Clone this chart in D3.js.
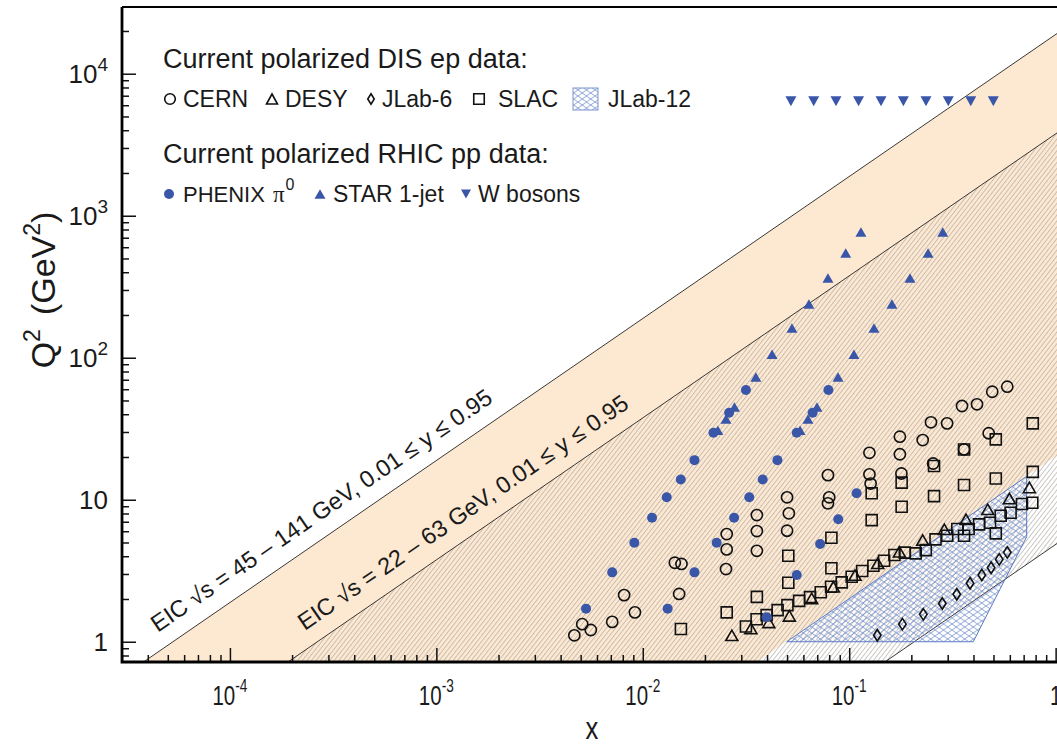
<!DOCTYPE html>
<html>
<head>
<meta charset="utf-8">
<script src="https://cdn.jsdelivr.net/npm/d3@7"></script>
<style>
body { margin: 0; background: #fff; }
text { font-family: "Liberation Sans", Arial, Helvetica, sans-serif; fill: #1a1a1a; }
</style>
</head>
<body>
<svg id="chart" width="1057" height="748"></svg>
<script>
"use strict"

// ---- data: [x, Q^2 (GeV^2)] ----
const cern = [
    [0.00466, 1.11], [0.00509, 1.33], [0.0056, 1.21], [0.00711, 1.38], [0.00812, 2.13], [0.00916, 1.61],
    [0.0150, 2.17], [0.0143, 3.60], [0.0154, 3.53], [0.0253, 3.25], [0.0255, 5.73], [0.0255, 4.47],
    [0.0357, 7.80], [0.0357, 6.02], [0.0357, 4.37], [0.050, 10.4], [0.051, 8.02], [0.050, 6.05],
    [0.0789, 14.9], [0.080, 10.4], [0.0789, 9.43], [0.1253, 21.4], [0.1253, 15.1], [0.127, 13.0],
    [0.176, 27.8], [0.176, 20.9], [0.179, 15.3], [0.227, 26.3], [0.249, 35.1], [0.298, 34.5],
    [0.255, 18.0], [0.352, 45.7], [0.416, 47.0], [0.360, 22.6], [0.474, 29.4], [0.493, 57.6], [0.583, 62.5]
]
const desy = [
    [0.0270, 1.11], [0.0334, 1.24], [0.0408, 1.37], [0.0513, 1.52], [0.0658, 2.02], [0.0838, 2.44],
    [0.1067, 2.95], [0.1374, 3.57], [0.175, 4.30], [0.227, 5.20], [0.289, 6.19], [0.368, 7.28],
    [0.469, 8.56], [0.597, 10.2], [0.746, 12.2]
]
const jlab6 = [
    [0.1368, 1.11], [0.181, 1.33], [0.2286, 1.56], [0.2825, 1.86], [0.332, 2.16], [0.385, 2.58],
    [0.439, 2.95], [0.487, 3.32], [0.533, 3.80], [0.583, 4.26]
]
const slac = [
    [0.0153, 1.23], [0.0255, 1.61], [0.0357, 2.07], [0.0507, 2.60], [0.0507, 4.03], [0.082, 5.40],
    [0.082, 3.29], [0.1285, 11.1], [0.1285, 7.19], [0.1795, 13.2], [0.1795, 8.93], [0.2576, 17.3],
    [0.2576, 10.6], [0.360, 22.6], [0.360, 12.7], [0.513, 26.6], [0.513, 14.1], [0.775, 34.5],
    [0.775, 15.7], [0.513, 5.80], [0.360, 5.58],
    [0.0316, 1.28], [0.0356, 1.44], [0.0398, 1.54], [0.0450, 1.67], [0.0502, 1.81], [0.0572, 1.94],
    [0.0646, 2.06], [0.0728, 2.23], [0.0817, 2.44], [0.0920, 2.62], [0.1028, 2.87], [0.1156, 3.15],
    [0.131, 3.43], [0.1476, 3.72], [0.1656, 4.08], [0.186, 4.24], [0.210, 4.19], [0.235, 4.42],
    [0.262, 5.26], [0.2985, 5.58], [0.334, 6.22], [0.379, 6.22], [0.426, 6.71], [0.481, 6.89],
    [0.542, 7.72], [0.605, 8.10], [0.687, 9.33], [0.771, 9.52]
]
const phenix = [
    [0.0316, 59.2], [0.0262, 41.0], [0.0220, 29.6], [0.0178, 19.0], [0.01528, 13.9], [0.01306, 10.4],
    [0.01109, 7.47], [0.0091, 4.98], [0.00711, 3.08], [0.00531, 1.71],
    [0.0793, 59.2], [0.0665, 41.0], [0.0557, 29.6], [0.0449, 19.0], [0.0381, 13.9], [0.0328, 10.4],
    [0.0277, 7.47], [0.0228, 4.98], [0.0178, 3.08], [0.0132, 1.71],
    [0.0398, 1.49], [0.0557, 2.95], [0.0723, 4.88], [0.0885, 7.28], [0.1086, 11.1]
]
const star = [
    [0.0231, 30.9], [0.0253, 37.0], [0.0278, 45.0], [0.0353, 73.1], [0.0423, 106], [0.0528, 162],
    [0.0638, 239], [0.0789, 364], [0.0962, 546], [0.114, 768],
    [0.0578, 30.9], [0.0631, 37.0], [0.0698, 45.0], [0.0883, 73.1], [0.1054, 106], [0.1318, 162],
    [0.161, 239], [0.197, 364], [0.241, 546], [0.284, 768]
]
const wBosons = [
    [0.0522, 6400], [0.0673, 6400], [0.0863, 6400], [0.111, 6400], [0.1426, 6400],
    [0.183, 6400], [0.2355, 6400], [0.302, 6400], [0.388, 6400], [0.499, 6400]
]
// JLab-12 reach (outline of the hatched region)
const jlab12 = [[0.0498, 1.0], [0.724, 14.6], [0.724, 5.49], [0.399, 1.0]]

// EIC kinematic bands: Q^2 = x * y * s
const eicBands = [
    { sqrtsLo: 45, sqrtsHi: 141, label: "EIC \u221As = 45 \u2013 141 GeV, 0.01 \u2264 y \u2264 0.95", at: 4.95e-5 },
    { sqrtsLo: 22, sqrtsHi: 63,  label: "EIC \u221As = 22 \u2013 63 GeV, 0.01 \u2264 y \u2264 0.95",  at: 2.55e-4 }
]
const yMin = 0.01, yMax = 0.95

const xTicks = [1e-4, 1e-3, 1e-2, 1e-1, 1]
const xTickLabels = [["10", "-4"], ["10", "-3"], ["10", "-2"], ["10", "-1"], ["1", ""]]
const yTicks = [1, 10, 100, 1000, 10000]
const yTickLabels = [["1", ""], ["10", ""], ["10", "2"], ["10", "3"], ["10", "4"]]

// ---- layout ----
const pL = 122, pT = 7, pB = 662, pR = 1060
const blue = "#3a56a8"
const orange = "#fde9d2"

const svg = d3.select("#chart")
const x = d3.scaleLog().domain([3e-5, 1.05]).range([pL, pR])
const y = d3.scaleLog().domain([0.72, 29500]).range([pB, pT])

const defs = svg.append("defs")
defs.append("clipPath").attr("id", "plot")
    .append("rect").attr("x", pL).attr("y", pT).attr("width", pR - pL).attr("height", pB - pT)

const hatch = defs.append("pattern").attr("id", "hatch")
    .attr("patternUnits", "userSpaceOnUse").attr("width", 3.6).attr("height", 10)
    .attr("patternTransform", "rotate(38)")
hatch.append("line").attr("x1", 0.5).attr("y1", 0).attr("x2", 0.5).attr("y2", 10)
    .attr("stroke", "#a39d96").attr("stroke-width", 0.6)

const cross = defs.append("pattern").attr("id", "cross")
    .attr("patternUnits", "userSpaceOnUse").attr("width", 8.5).attr("height", 6)
cross.append("path").attr("d", "M0,0L8.5,6M0,6L8.5,0")
    .attr("stroke", "#6d8acb").attr("stroke-width", 0.75).attr("fill", "none")

const plot = svg.append("g").attr("clip-path", "url(#plot)")
const xs = x.domain()

// band polygon between two proportionality lines Q^2 = k x
const band = (kLo, kHi) => {
    const pts = [[xs[0], kHi * xs[0]], [xs[1], kHi * xs[1]], [xs[1], kLo * xs[1]], [xs[0], kLo * xs[0]]]
    return "M" + pts.map(p => [x(p[0]), y(p[1])].join(",")).join("L") + "Z"
}
const bandLine = k => "M" + [xs[0], xs[1]].map(v => [x(v), y(k * v)].join(",")).join("L")

const b1 = eicBands[0], b2 = eicBands[1]
plot.append("path").attr("d", band(yMin * b1.sqrtsLo ** 2, yMax * b1.sqrtsHi ** 2)).attr("fill", orange)
plot.append("path").attr("d", band(yMin * b2.sqrtsLo ** 2, yMax * b2.sqrtsHi ** 2)).attr("fill", "url(#hatch)")

plot.selectAll("path.eic").data([yMax * b1.sqrtsHi ** 2, yMax * b2.sqrtsHi ** 2, yMin * b2.sqrtsLo ** 2])
    .enter().append("path").attr("class", "eic")
    .attr("d", bandLine).attr("fill", "none").attr("stroke", "#222").attr("stroke-width", 0.9)

// JLab-12 region
plot.append("path")
    .attr("d", d3.line().x(d => x(d[0])).y(d => y(d[1]))(jlab12) + "Z")
    .attr("fill", "url(#cross)").attr("stroke", "#5c7bc4").attr("stroke-width", 1)

// band labels, rotated along the upper line of each band
const angle = Math.atan2(y(1) - y(10), x(10) - x(1)) * 180 / Math.PI
eicBands.forEach(b => {
    const k = yMax * b.sqrtsHi ** 2
    svg.append("text")
        .attr("transform", `translate(${x(b.at)},${y(k * b.at)}) rotate(${-angle})`)
        .attr("x", 0).attr("y", -16)
        .attr("font-size", 23.5)
        .text(b.label)
})

// ---- markers ----
const tri = (w, h) => `M0,${-h / 2}L${w / 2},${h / 2}L${-w / 2},${h / 2}Z`
const triDown = (w, h) => `M0,${h / 2}L${w / 2},${-h / 2}L${-w / 2},${-h / 2}Z`
const diamond = (w, h) => `M0,${-h / 2}L${w / 2},0L0,${h / 2}L${-w / 2},0Z`
const square = s => `M${-s / 2},${-s / 2}h${s}v${s}h${-s}Z`
const circle = r => `M${-r},0a${r},${r} 0 1,0 ${2 * r},0a${r},${r} 0 1,0 ${-2 * r},0Z`

const series = [
    { data: cern,    d: circle(5.6),       fill: "none", stroke: "#111" },
    { data: desy,    d: tri(12, 10.5),     fill: "none", stroke: "#111" },
    { data: jlab6,   d: diamond(7.5, 11.5), fill: "none", stroke: "#111" },
    { data: slac,    d: square(11),        fill: "none", stroke: "#111" },
    { data: star,    d: tri(11, 9.5),      fill: blue,   stroke: "none" },
    { data: phenix,  d: circle(5),         fill: blue,   stroke: "none" },
    { data: wBosons, d: triDown(11, 10),   fill: blue,   stroke: "none" }
]
series.forEach(s => {
    plot.append("g").selectAll("path").data(s.data).enter().append("path")
        .attr("transform", p => `translate(${x(p[0])},${y(p[1])})`)
        .attr("d", s.d).attr("fill", s.fill).attr("stroke", s.stroke).attr("stroke-width", 1.6)
})

// ---- legend ----
const lg = svg.append("g")
lg.append("text").attr("x", 163).attr("y", 68).attr("font-size", 27).text("Current polarized DIS ep data:")
lg.append("text").attr("x", 163).attr("y", 163).attr("font-size", 27).text("Current polarized RHIC pp data:")

const row1 = [
    { d: circle(5.3), fill: "none", stroke: "#111", mx: 170, tx: 183, label: "CERN" },
    { d: tri(11, 10), fill: "none", stroke: "#111", mx: 272, tx: 285, label: "DESY" },
    { d: diamond(6.5, 10.5), fill: "none", stroke: "#111", mx: 371, tx: 382, label: "JLab-6" },
    { d: square(10.5), fill: "none", stroke: "#111", mx: 479, tx: 498, label: "SLAC" }
]
const row2 = [
    { d: circle(5), fill: blue, stroke: "none", mx: 169, tx: 183, label: "PHENIX" },
    { d: tri(11, 9.5), fill: blue, stroke: "none", mx: 320, tx: 333, label: "STAR 1-jet" },
    { d: triDown(10, 9), fill: blue, stroke: "none", mx: 466, tx: 478, label: "W bosons" }
]
const legendRow = (items, cy) => {
    items.forEach(it => {
        lg.append("path").attr("transform", `translate(${it.mx},${cy})`).attr("d", it.d)
            .attr("fill", it.fill).attr("stroke", it.stroke).attr("stroke-width", 1.6)
        const t = lg.append("text").attr("x", it.tx).attr("y", cy + 8).attr("font-size", 23).text(it.label)
        if (it.label == "PHENIX") {
            t.attr("font-size", 22)
            t.append("tspan").attr("font-family", "'Liberation Serif', serif").attr("font-size", 23).attr("dx", 8).text("\u03C0")
            t.append("tspan").attr("font-size", 16).attr("dx", 1).attr("dy", -12).text("0")
        }
    })
}
legendRow(row1, 99)
legendRow(row2, 194)
lg.append("rect").attr("x", 573).attr("y", 88).attr("width", 25).attr("height", 22)
    .attr("fill", "url(#cross)").attr("stroke", "#7a95d0").attr("stroke-width", 1)
lg.append("text").attr("x", 608).attr("y", 107).attr("font-size", 23).text("JLab-12")

// ---- axes ----
const minorTicks = (scale) => {
    const [a, b] = scale.domain()
    const out = []
    for (let e = Math.floor(Math.log10(a)); e <= Math.ceil(Math.log10(b)); e++)
        for (let m = 2; m <= 9; m++) {
            const v = m * 10 ** e
            if (v >= a && v <= b) out.push(v)
        }
    return out
}
const styleAxis = g => {
    g.select(".domain").remove()
    g.selectAll("line").attr("stroke", "#111").attr("stroke-width", 1.5)
}
svg.append("g").attr("transform", `translate(${pL},0)`)
    .call(d3.axisRight(y).tickValues(minorTicks(y)).tickSize(7).tickSizeOuter(0).tickFormat(""))
    .call(styleAxis)
svg.append("g").attr("transform", `translate(${pL},0)`)
    .call(d3.axisRight(y).tickValues(yTicks).tickSize(14).tickSizeOuter(0).tickFormat(""))
    .call(styleAxis)
svg.append("g").attr("transform", `translate(0,${pB})`)
    .call(d3.axisTop(x).tickValues(minorTicks(x)).tickSize(7).tickSizeOuter(0).tickFormat(""))
    .call(styleAxis)
svg.append("g").attr("transform", `translate(0,${pB})`)
    .call(d3.axisTop(x).tickValues(xTicks).tickSize(14).tickSizeOuter(0).tickFormat(""))
    .call(styleAxis)

yTicks.forEach((v, i) => {
    const t = svg.append("text").attr("x", 108).attr("y", y(v) + 9).attr("text-anchor", "end").attr("font-size", 26)
    t.append("tspan").text(yTickLabels[i][0])
    if (yTickLabels[i][1]) t.append("tspan").attr("font-size", 19).attr("dy", -12).text(yTickLabels[i][1])
})
xTicks.forEach((v, i) => {
    const t = svg.append("text").attr("transform", `translate(${x(v)},705) scale(0.76,1)`)
        .attr("text-anchor", "middle").attr("font-size", 27)
    t.append("tspan").text(xTickLabels[i][0])
    if (xTickLabels[i][1]) t.append("tspan").attr("font-size", 18).attr("dy", -13).text(xTickLabels[i][1])
})

// frame
svg.append("path").attr("d", `M${pL},${pT}H${1057}`).attr("stroke", "#000").attr("stroke-width", 2.2)
svg.append("path").attr("d", `M${pL},${pT}V${pB}H${1057}`).attr("fill", "none")
    .attr("stroke", "#000").attr("stroke-width", 2.8)

// axis titles
svg.append("text").attr("transform", "translate(592,739) scale(0.8,1)").attr("text-anchor", "middle")
    .attr("font-size", 32).text("x")
const yt = svg.append("text").attr("transform", "translate(55,290) rotate(-90)").attr("text-anchor", "middle")
    .attr("font-size", 34)
yt.append("tspan").text("Q")
yt.append("tspan").attr("font-size", 23).attr("dy", -15).text("2")
yt.append("tspan").attr("dx", 14).attr("dy", 15).text("(GeV")
yt.append("tspan").attr("font-size", 23).attr("dy", -15).text("2")
yt.append("tspan").attr("dy", 15).text(")")
</script>
</body>
</html>
